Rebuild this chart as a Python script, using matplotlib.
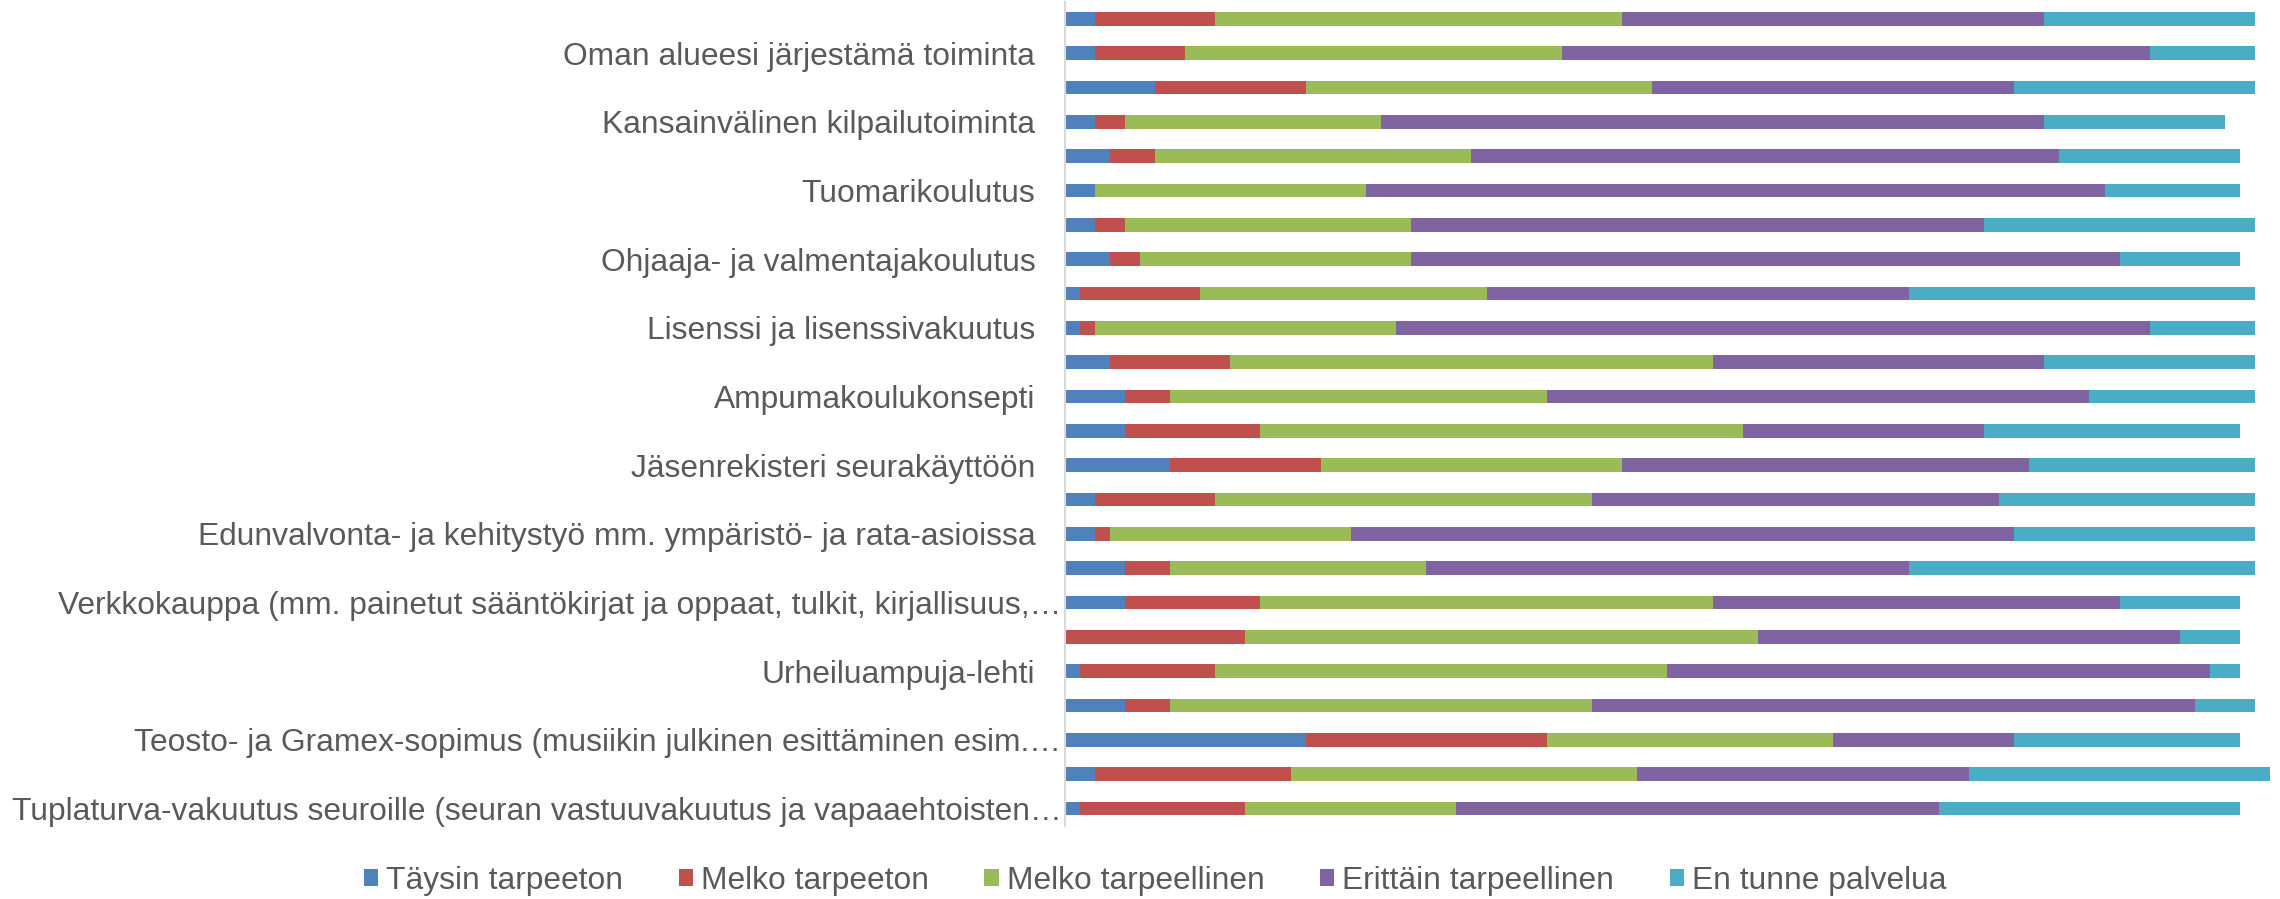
import matplotlib
matplotlib.use("Agg")
import matplotlib.pyplot as plt
from matplotlib.transforms import ScaledTranslation
import numpy as np

# answers per service, bars listed from top to bottom
taysin_tarpeeton = [2, 2, 6, 2, 3, 2, 2, 3, 1, 1, 3, 4, 4, 7, 2, 2, 4, 4, 0, 1, 4, 16, 2, 1]
melko_tarpeeton = [8, 6, 10, 2, 3, 0, 2, 2, 8, 1, 8, 3, 9, 10, 8, 1, 3, 9, 12, 9, 3, 16, 13, 11]
melko_tarpeellinen = [27, 25, 23, 17, 21, 18, 19, 18, 19, 20, 32, 25, 32, 20, 25, 16, 17, 30, 34, 30, 28, 19, 23, 14]
erittain_tarpeellinen = [28, 39, 24, 44, 39, 49, 38, 47, 28, 50, 22, 36, 16, 27, 27, 44, 32, 27, 28, 36, 40, 12, 22, 32]
en_tunne = [14, 7, 16, 12, 12, 9, 18, 8, 23, 7, 14, 11, 17, 15, 17, 16, 23, 8, 4, 2, 4, 15, 20, 20]

# only every second bar carries a label in the original chart
labels = [
    "Oman alueesi järjestämä toiminta",
    "Kansainvälinen kilpailutoiminta",
    "Tuomarikoulutus",
    "Ohjaaja- ja valmentajakoulutus",
    "Lisenssi ja lisenssivakuutus",
    "Ampumakoulukonsepti",
    "Jäsenrekisteri seurakäyttöön",
    "Edunvalvonta- ja kehitystyö mm. ympäristö- ja rata-asioissa",
    "Verkkokauppa (mm. painetut sääntökirjat ja oppaat, tulkit, kirjallisuus,…",
    "Urheiluampuja-lehti",
    "Teosto- ja Gramex-sopimus (musiikin julkinen esittäminen esim.…",
    "Tuplaturva-vakuutus seuroille (seuran vastuuvakuutus ja vapaaehtoisten…",
]

series = ["Täysin tarpeeton", "Melko tarpeeton", "Melko tarpeellinen",
          "Erittäin tarpeellinen", "En tunne palvelua"]
colours = ["#4F81BD", "#C0504D", "#9BBB59", "#8064A2", "#4BACC6"]

plt.rcParams['font.family'] = ['Liberation Sans', 'DejaVu Sans']
txt = "#595959"

fig = plt.figure(figsize=(22.8, 8.99), dpi=100)
ax = fig.add_axes([0.4669, 0.0815, 0.5331, 0.9166])

data = np.array([taysin_tarpeeton, melko_tarpeeton, melko_tarpeellinen,
                 erittain_tarpeellinen, en_tunne], dtype=float)
y = np.arange(data.shape[1])
left = np.zeros(data.shape[1])
for vals, name, col in zip(data, series, colours):
    ax.barh(y, vals, left=left, height=0.4, color=col, label=name)
    left += vals

ax.set_ylim(len(y) - 0.5, -0.5)
ax.set_xlim(0, 80.64)
ax.set_yticks(y[1::2])
ax.set_yticklabels(labels, fontsize=22.85, color=txt)
ax.tick_params(axis="y", length=0, pad=21)
ax.set_xticks([])
for s in ["top", "right", "bottom"]:
    ax.spines[s].set_visible(False)
ax.spines["left"].set_color("#D9D9D9")
ax.spines["left"].set_linewidth(1.5)

# truncated labels sit closer to the axis, like in Excel
shift = ScaledTranslation(0.26, 0, fig.dpi_scale_trans)
for lab in ax.get_yticklabels():
    if lab.get_text().endswith("…"):
        lab.set_transform(lab.get_transform() + shift)

fig.legend(loc="center", bbox_to_anchor=(0.5066, 0.020), ncol=5, frameon=False,
           fontsize=22.85, labelcolor=txt, handlelength=0.45, handleheight=0.45,
           handletextpad=0.25, columnspacing=1.75)

fig.savefig("out.png", dpi=100)
